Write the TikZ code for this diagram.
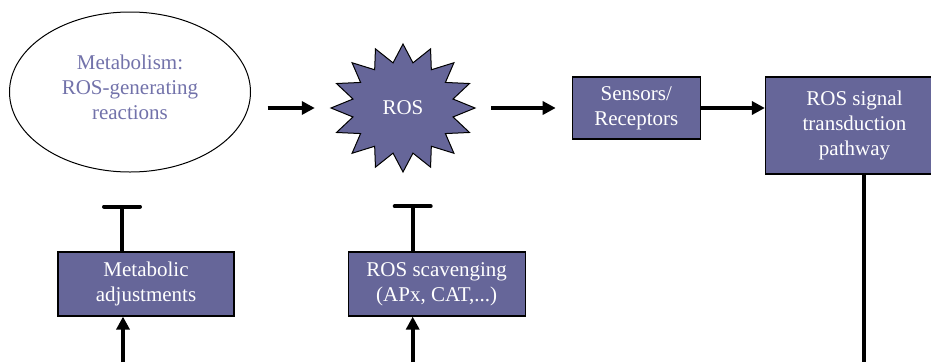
\documentclass[tikz,border=0pt]{standalone}
\usepackage{fontspec}
\setmainfont{Liberation Serif}
\usetikzlibrary{positioning,arrows.meta,calc,shapes.geometric}

\definecolor{rosblue}{HTML}{666699}
\definecolor{rostext}{HTML}{7272AA}

\begin{document}
\begin{tikzpicture}[
	x=1pt, y=-1pt,
	font=\fontsize{21}{25}\selectfont,
	box/.style={draw, line width=1.2pt, fill=rosblue, text=white, align=center, inner sep=0pt},
	arr/.style={line width=4pt, -{Triangle[length=13pt,width=13pt]}},
	inh/.style={line width=4pt, -{Bar[width=36pt,round]}},
	plain/.style={line width=4pt}
	]
	
	\useasboundingbox (0,0) rectangle (931,362);
	\coordinate (edge) at (0,362);
	
	%==================== top row ====================
	\node[ellipse, draw, line width=1pt, minimum width=241pt, minimum height=160pt,
	label={[text=rostext, align=center, yshift=5pt]center:Metabolism:\\ROS-generating\\reactions}] (metab) at (130,92) {};
	
	\coordinate (roscentre) at (403,108);
	\draw[fill=rosblue, line width=1pt] ($(roscentre)+(90:72 and 64)$)
	\foreach \i in {0,...,15}{
		-- ($(roscentre)+(101.25+22.5*\i:51 and 46)$)
		-- ($(roscentre)+(112.5+22.5*\i:72 and 64)$)
	} -- cycle;
	\node[minimum width=145pt, minimum height=128pt, text=white] (ros) at (roscentre) {ROS};
	
	\node[box, minimum width=128pt, minimum height=62pt, right=96pt of ros] (sensors) {Sensors/\\Receptors};
	\node[box, minimum width=178pt, minimum height=97pt,
	right=64pt of sensors.north east, anchor=north west] (signal) {ROS signal\\transduction\\pathway};
	
	\draw[arr, shorten <=16.5pt, shorten >=15.5pt] (metab.east |- ros.west) -- (ros.west);
	\draw[arr, shorten <=15.5pt, shorten >=16pt] (ros.east) -- (ros.east -| sensors.west);
	\draw[arr] (sensors.east) -- (sensors.east -| signal.west);
	
	%==================== bottom row ====================
	\node[box, minimum width=176pt, minimum height=64pt] (metadj) at (146,284) {Metabolic\\adjustments};
	\node[box, minimum width=177pt, minimum height=64pt, right=113pt of metadj] (scav) {ROS scavenging\\(APx, CAT,...)};
	
	\draw[inh, shorten >=32pt] ([xshift=-24pt]metadj.north) -- ([xshift=-24pt]metadj.north |- metab.south);
	\draw[inh, shorten >=32pt] ([xshift=-24pt]scav.north) -- ([xshift=-24pt]scav.north |- ros.south);
	
	\draw[arr] ([xshift=-23pt]metadj.south |- edge) -- ([xshift=-23pt]metadj.south);
	\draw[arr] ([xshift=-24pt]scav.south |- edge) -- ([xshift=-24pt]scav.south);
	\draw[plain] ([xshift=9pt]signal.south) -- ([xshift=9pt]signal.south |- edge);
	
\end{tikzpicture}
\end{document}
